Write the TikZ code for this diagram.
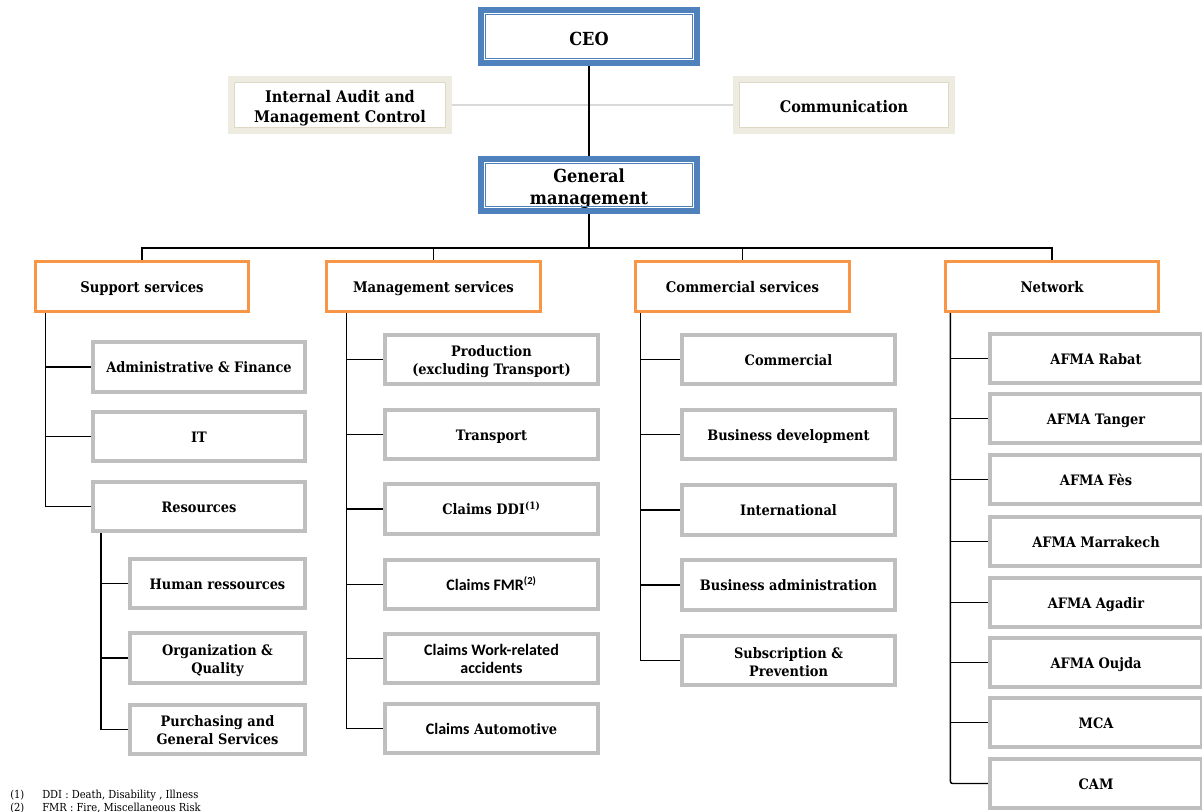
\documentclass[tikz,border=0pt]{standalone}
\usepackage{fontspec}
\setmainfont{DejaVu Serif Condensed}
\newfontfamily\calfont{Carlito}
\usetikzlibrary{calc,backgrounds}
\definecolor{blu}{HTML}{4F81BD}
\definecolor{org}{HTML}{F79646}
\definecolor{gry}{HTML}{BFBFBF}
\definecolor{bei}{HTML}{EEECE1}
\definecolor{beid}{HTML}{DDD9C4}
\definecolor{lgl}{HTML}{D9D9D9}
\newcommand\bstrut[1]{\rule[-.3\baselineskip]{0pt}{\dimexpr\baselineskip+#1\relax}}
\begin{document}
\begin{tikzpicture}[x=0.75pt,y=-0.75pt,
  sz/.style 2 args={minimum width=#1*0.75pt, minimum height=#2*0.75pt},
  base/.style={fill=white, inner sep=0pt, align=center, execute at end node=\strut},
  gbox/.style={base, draw=gry, line width=3pt, font=\bfseries\fontsize{10.8}{13.5}\selectfont,
    execute at begin node=\bstrut{3pt}},
  obox/.style={base, draw=org, line width=2.3pt, font=\bfseries\fontsize{11}{13}\selectfont,
    execute at begin node=\bstrut{4.5pt}},
  bbox/.style={base, draw=blu, line width=4.2pt, font=\bfseries\fontsize{13.5}{16.5}\selectfont,
    execute at begin node=\bstrut{6.8pt}},
  abox/.style={base, draw=bei, line width=4.5pt, font=\bfseries\fontsize{12}{15}\selectfont,
    execute at begin node=\bstrut{6pt}},
  cal/.style={font=\bfseries\calfont\fontsize{12}{13.5}\selectfont},
  conn/.style={line width=1.1pt, black},
  foot/.style={inner sep=0pt, anchor=base west, font=\fontsize{8.3}{10}\selectfont}]
\useasboundingbox (0,0) rectangle (1202,812);
\clip (0,0) rectangle (1202,812);

% top
\node[bbox, sz={216}{53}] (ceo) at (589,36.5) {CEO};
\node[abox, sz={218}{52}] (aud) at (340,105) {\bstrut{6pt}Internal Audit and\\Management Control};
\node[abox, sz={216}{52}] (com) at (844,105) {Communication};
\node[bbox, sz={216}{52}] (gm) at (589,185) {\bstrut{6pt}General\\management};
\foreach \n in {ceo,gm}{
  \draw[blu, line width=1.1pt] ($(\n.north west)+(7.5,7.5)$) rectangle ($(\n.south east)+(-7.5,-7.5)$);}
\foreach \n in {aud,com}{
  \draw[beid, line width=0.8pt] ($(\n.north west)+(6.5,6.5)$) rectangle ($(\n.south east)+(-6.5,-6.5)$);}

% level 2
\node[obox, sz={213}{50}] (sup) at (142,286.5) {Support services};
\node[obox, sz={214}{50}] (mgt) at (433.5,286.5) {Management services};
\node[obox, sz={214}{50}] (cms) at (742.5,286.5) {Commercial services};
\node[obox, sz={213}{50}] (net) at (1052,286.5) {Network};

% support
\node[gbox, sz={212}{50}] (af) at (199,367) {Administrative \& Finance};
\node[gbox, sz={212}{49}] (it) at (199,436.5) {IT};
\node[gbox, sz={212}{49}] (res) at (199,506.5) {Resources};
\node[gbox, sz={175}{49}] (hr) at (217.5,583.5) {Human ressources};
\node[gbox, sz={175}{50}] (oq) at (217.5,658) {\bstrut{4.5pt}Organization \&\\Quality};
\node[gbox, sz={175}{49}] (pgs) at (217.5,729.5) {\bstrut{3.5pt}Purchasing and\\General Services};

% management
\node[gbox, sz={213}{49}] (prod) at (491.5,359.5) {\bstrut{3.5pt}Production\\(excluding Transport)};
\node[gbox, sz={213}{49}] (tra) at (491.5,434.5) {Transport};
\node[gbox, sz={213}{50}] (ddi) at (491.5,509) {Claims DDI\textsuperscript{(1)}};
\node[gbox, cal, sz={213}{49}] (fmr) at (491.5,584.5) {Claims FMR\textsuperscript{(2)}};
\node[gbox, cal, sz={213}{49}] (wra) at (491.5,658.5) {\bstrut{4pt}Claims Work-related\\accidents};
\node[gbox, sz={213}{49}] (aut) at (491.5,728.5) {{\calfont\fontsize{12}{13.5}\selectfont Claims} Automotive};

% commercial
\node[gbox, sz={213}{49}] (c1) at (788.5,359.5) {Commercial};
\node[gbox, sz={213}{49}] (c2) at (788.5,434.5) {Business development};
\node[gbox, sz={213}{50}] (c3) at (788.5,510) {International};
\node[gbox, sz={213}{50}] (c4) at (788.5,585) {Business administration};
\node[gbox, sz={213}{49}] (c5) at (788.5,660.5) {\bstrut{4.5pt}Subscription \&\\Prevention};

% network
\node[gbox, sz={212}{49}] (n1) at (1096,358.5) {AFMA Rabat};
\node[gbox, sz={212}{49}] (n2) at (1096,418.5) {AFMA Tanger};
\node[gbox, sz={212}{49}] (n3) at (1096,479.5) {AFMA Fès};
\node[gbox, sz={212}{49}] (n4) at (1096,541.5) {AFMA Marrakech};
\node[gbox, sz={212}{49}] (n5) at (1096,602.5) {AFMA Agadir};
\node[gbox, sz={212}{49}] (n6) at (1096,662.5) {AFMA Oujda};
\node[gbox, sz={212}{49}] (n7) at (1096,722.5) {MCA};
\node[gbox, sz={212}{49}] (n8) at (1096,783.5) {CAM};

% footnotes
\node[foot] (f1a) at (10,798) {(1)};
\node[foot] (f1b) at (42,798) {DDI : Death, Disability , Illness};
\node[foot] (f2a) at (10,811) {(2)};
\node[foot] (f2b) at (42,811) {FMR : Fire, Miscellaneous Risk};

\begin{pgfonlayer}{background}
  \draw[lgl, line width=1pt] (aud.east) -- (com.west);
  \draw[conn] (ceo.south) -- (gm.north);
  \coordinate (bus) at (589,248);
  \draw[conn] (gm.south) -- (bus);
  \draw[conn] (sup.north) |- (bus) -| (net.north);
  \draw[conn] (mgt.north) -- (mgt.north |- bus);
  \draw[conn] (cms.north) -- (cms.north |- bus);
  \foreach \c in {af,it,res}{\draw[conn] ($(sup.south west)+(11.5,0)$) |- (\c.west);}
  \foreach \c in {hr,oq,pgs}{\draw[conn] ($(res.south west)+(10,0)$) |- (\c.west);}
  \foreach \c in {prod,tra,ddi,fmr,wra,aut}{\draw[conn] ($(mgt.south west)+(21.5,0)$) |- (\c.west);}
  \foreach \c in {c1,c2,c3,c4,c5}{\draw[conn] ($(cms.south west)+(6.5,0)$) |- (\c.west);}
  \foreach \c in {n1,n2,n3,n4,n5,n6,n7}{\draw[conn] ($(net.south west)+(6.5,0)$) |- (\c.west);}
  \draw[conn, rounded corners=1.5pt] ($(net.south west)+(6.5,0)$) |- (n8.west);
\end{pgfonlayer}
\end{tikzpicture}
\end{document}
